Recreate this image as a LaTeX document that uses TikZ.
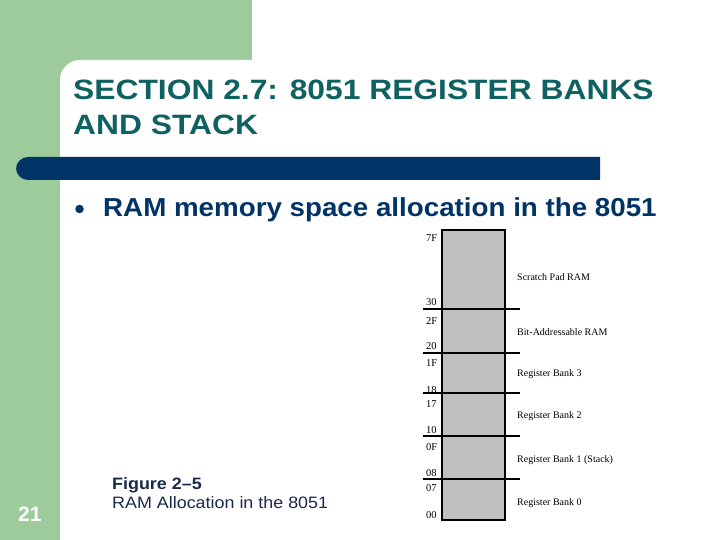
\documentclass[tikz,border=0pt]{standalone}
\usepackage{fontspec}
\setmainfont{Liberation Sans}
\newfontfamily\titlefont[FakeStretch=1.135]{Liberation Sans}
\newfontfamily\pointfont[FakeStretch=1.067]{Liberation Sans}
\newfontfamily\capfont[FakeStretch=1.085]{Liberation Sans}
\newfontfamily\memfont{Liberation Serif}
\definecolor{slidegreen}{RGB}{158,203,155}
\definecolor{titleteal}{RGB}{16,98,98}
\definecolor{barblue}{RGB}{0,51,102}
\definecolor{capnavy}{RGB}{26,42,74}
\definecolor{memgray}{RGB}{192,192,192}
\begin{document}
\begin{tikzpicture}[
x=1pt,y=-1pt,
every node/.style={inner sep=0pt,anchor=base west},
titletext/.style={text=titleteal,font=\titlefont\bfseries\fontsize{28}{34}\selectfont},
captext/.style={text=capnavy,font=\capfont\fontsize{16.5}{20}\selectfont},
addr/.style={font=\memfont\fontsize{10.5}{12}\selectfont},
area/.style={font=\memfont\fontsize{10}{12}\selectfont},
divider/.style={line width=2pt}
]
\useasboundingbox (0,0) rectangle (720,540);
% slide background
\fill[slidegreen] (0,0) rectangle (252,80);
\fill[slidegreen] (0,0) rectangle (60,540);
\fill[white] (60,540) [rounded corners=20]-- (60,60) [sharp corners]-- (720,60) -- (720,540) -- cycle;
\fill[barblue] (600,157) [rounded corners=12]-- (16,157) -- (16,180) [sharp corners]-- (600,180) -- cycle;
% title and bullet
\node[titletext] (title1) at (73,100) {SECTION 2.7: 8051 REGISTER BANKS};
\node[titletext] (title2) at (73,135) {AND STACK};
\node[circle,fill=barblue,minimum size=8.5pt,anchor=center] (bullet) at (79.5,209) {};
\node[text=barblue,font=\pointfont\bfseries\fontsize{26}{30}\selectfont] (point) at (103,216) {RAM memory space allocation in the 8051};
% slide number and caption
\node[text=white,font=\bfseries\fontsize{21}{24}\selectfont] (pagenum) at (18,521) {21};
\node[captext,font=\capfont\bfseries\fontsize{16.5}{20}\selectfont] (figno) at (112,489) {Figure 2–5};
\node[captext] (figcap) at (112,508) {RAM Allocation in the 8051};
% memory map
\draw[fill=memgray,line width=2pt] (442,230) rectangle (505,520);
\foreach \y in {309,353,393,436,479}
  \draw[divider] (423,\y) -- (520,\y);
\foreach \a/\y in {7F/241,30/305,2F/324,20/349,1F/366,18/393,17/407,10/433,0F/450,08/476,07/491,00/518}
  \node[addr] (addr\a) at (426,\y) {\a};
\foreach \n/\y/\t in {scratch/280/Scratch Pad RAM,bitaddr/335/Bit-Addressable RAM,
  bankiii/376/Register Bank 3,bankii/418/Register Bank 2,
  banki/462/Register Bank 1 (Stack),bank0/505/Register Bank 0}
  \node[area] (\n) at (517,\y) {\t};
\end{tikzpicture}
\end{document}
